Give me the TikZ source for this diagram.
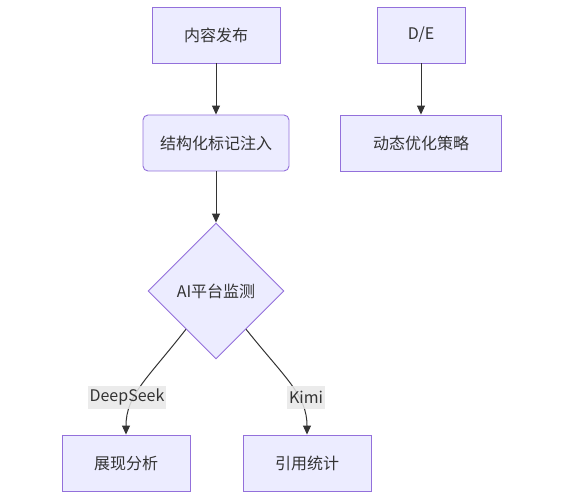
\documentclass[tikz,border=0pt]{standalone}
\usepackage{fontspec}
\setmainfont{Noto Sans CJK SC}
\usetikzlibrary{shapes.geometric,arrows.meta,calc}
\definecolor{nodefill}{HTML}{ECECFF}
\definecolor{nodeline}{HTML}{9370DB}
\definecolor{txt}{HTML}{333333}
\definecolor{lblbg}{HTML}{E8E8E8}
\begin{document}
\begin{tikzpicture}[x=1pt,y=-1pt,
  box/.style={draw=nodeline,fill=nodefill,line width=0.9pt,minimum width=128pt,minimum height=56pt,inner sep=0pt,text=txt,font=\fontsize{16}{19}\selectfont},
  dia/.style={diamond,draw=nodeline,fill=nodefill,line width=0.9pt,minimum width=136pt,minimum height=136pt,inner sep=0pt,text=txt,font=\fontsize{16}{19}\selectfont},
  edge/.style={draw=txt,line width=1pt,-{Triangle[length=9pt,width=8pt]}},
  lbl/.style={fill=lblbg,fill opacity=0.85,text opacity=1,text=txt,inner sep=2pt,minimum height=23pt,font=\fontsize{16}{19}\selectfont}]
\useasboundingbox (0,0) rectangle (565,500);
\node[box] (a) at (216,35) {内容发布};
\node[box,rounded corners=5pt,minimum width=146pt] (b) at (216,143) {结构化标记注入};
\node[dia] (d) at (216,291) {AI平台监测};
\node[box] (e) at (126,463) {展现分析};
\node[box] (f) at (307,463) {引用统计};
\node[box,minimum width=88pt] (g) at (421,35) {D/E};
\node[box,minimum width=161pt] (h) at (421,143) {动态优化策略};
\coordinate (s1) at ($(d.west)!0.56!(d.south)$);
\coordinate (s2) at ($(d.east)!0.56!(d.south)$);
\draw[edge] (a.south) -- (b.north);
\draw[edge] (g.south) -- (h.north);
\draw[edge] (b.south) -- (d.north);
\draw[edge] (s1) .. controls (148,378) and (126,395) .. (e.north);
\draw[edge] (s2) .. controls (285,378) and (307,395) .. (f.north);
\node[lbl] (l1) at (127,397) {DeepSeek};
\node[lbl] (l2) at (306,397) {Kimi};
\end{tikzpicture}
\end{document}
